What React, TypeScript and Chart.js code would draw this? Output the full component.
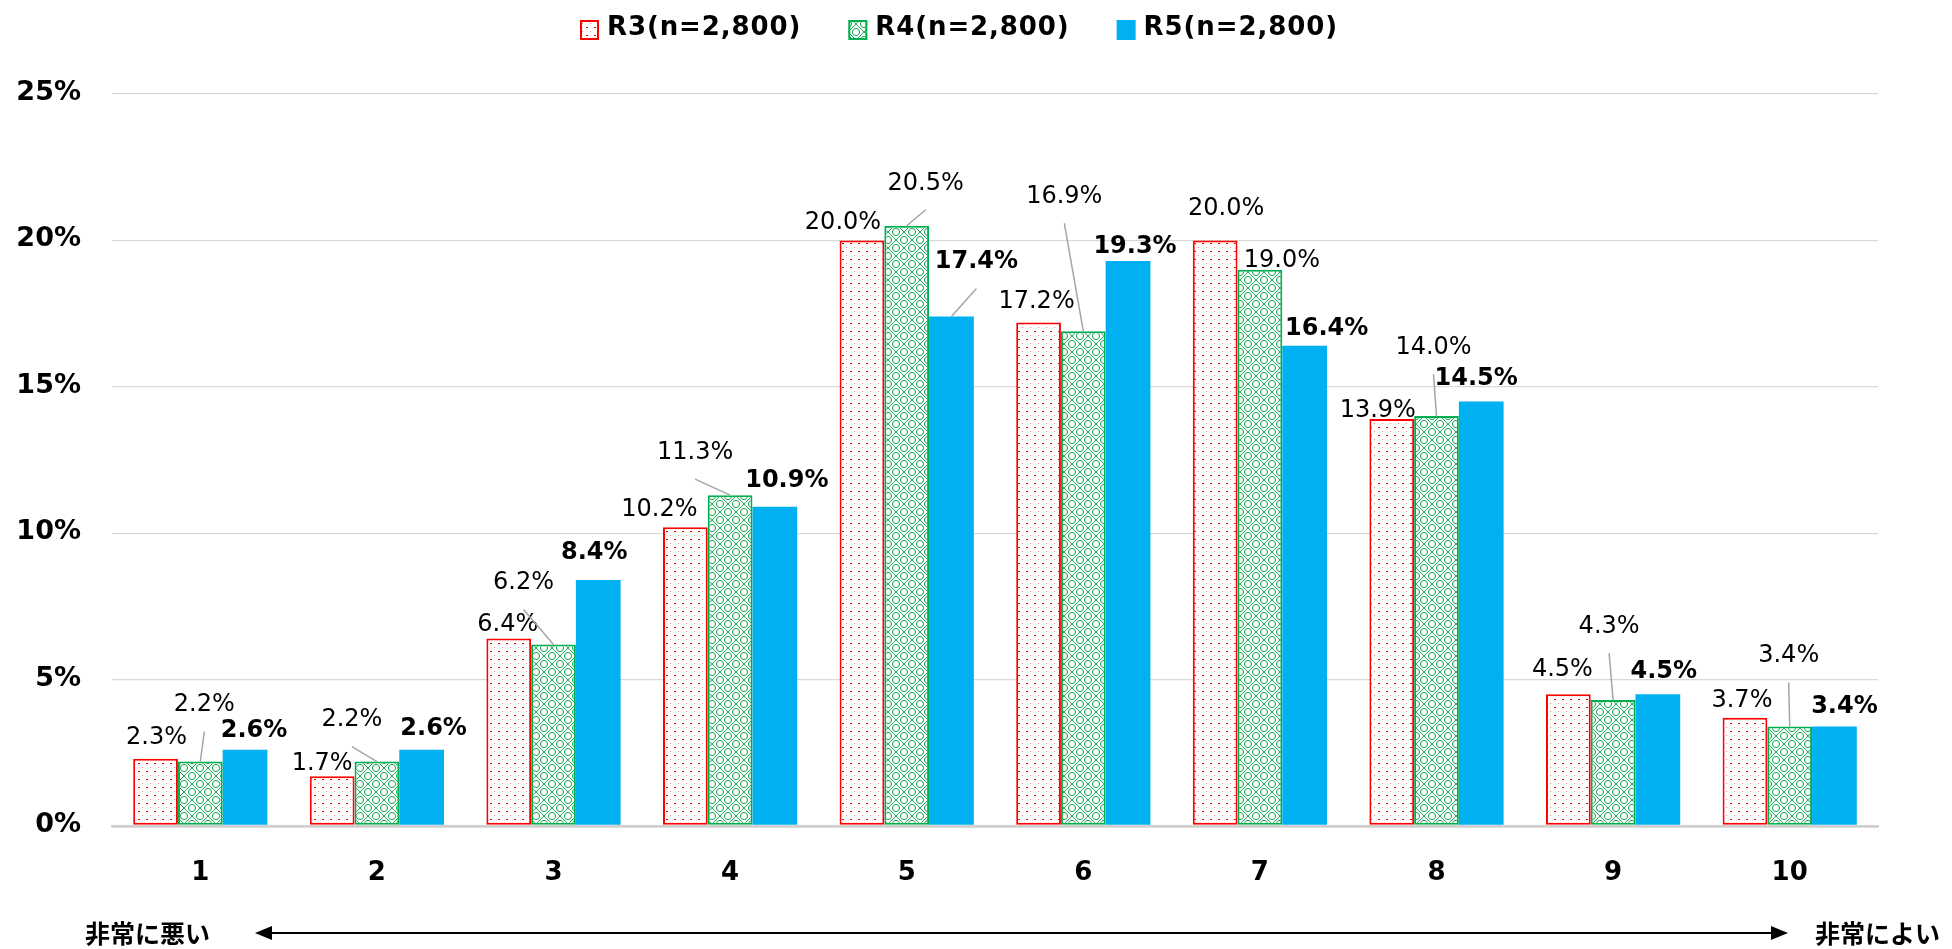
import { useEffect, useRef } from 'react';
import { Chart, registerables } from 'chart.js';

Chart.register(...registerables);

// ---- data ----
const categories = ['1', '2', '3', '4', '5', '6', '7', '8', '9', '10'];
const r3Values = [2.3, 1.7, 6.4, 10.2, 20.0, 17.2, 20.0, 13.9, 4.5, 3.7];
const r4Values = [2.2, 2.2, 6.2, 11.3, 20.5, 16.9, 19.0, 14.0, 4.3, 3.4];
const r5Values = [2.6, 2.6, 8.4, 10.9, 17.4, 19.3, 16.4, 14.5, 4.5, 3.4];
const seriesLabels = ['R3(n=2,800)', 'R4(n=2,800)', 'R5(n=2,800)'];
const yMax = 25;
const yStep = 5;
const scaleLeftLabel = '非常に悪い';
const scaleRightLabel = '非常によい';

// ---- label layout (pixel offsets of each value label from its bar top) ----
const LABEL_OFFSETS: number[][][] = [
  [[1, -23], [-10, -15], [-1, -16], [-26, -20], [-19, -20], [-2, -23], [11, -34], [-14, -11], [-6, -27], [-3, -19]],
  [[4, -59], [-25, -44], [-30, -64], [-35, -45], [19, -45], [-19, -137], [22, -11], [-3, -71], [-4, -76], [-1, -73]],
  [[9, -22], [12, -24], [-4, -30], [12, -29], [25, -57], [7, -17], [22, -20], [-5, -25], [6, -25], [10, -22]],
];
const LEADERS: boolean[][] = [
  [false, false, false, false, false, false, false, false, false, false],
  [true, true, true, true, true, true, false, true, true, true],
  [false, false, false, false, true, false, false, false, false, false],
];

const RED = '#FF0000';
const GREEN = '#00B050';
const BLUE = '#00B0F0';

function makeDotPattern(ctx: CanvasRenderingContext2D): CanvasPattern | string {
  const c = document.createElement('canvas');
  c.width = 8;
  c.height = 8;
  const g = c.getContext('2d');
  if (!g) return '#fff';
  g.fillStyle = '#ffffff';
  g.fillRect(0, 0, 8, 8);
  g.fillStyle = '#d40000';
  g.fillRect(2, 3, 2, 1);
  g.fillStyle = '#ec8080';
  g.fillRect(6, 7, 1, 1);
  return ctx.createPattern(c, 'repeat') || '#fff';
}

function makeLatticePattern(ctx: CanvasRenderingContext2D): CanvasPattern | string {
  const s = 16;
  const c = document.createElement('canvas');
  c.width = s;
  c.height = s;
  const g = c.getContext('2d');
  if (!g) return '#fff';
  g.fillStyle = '#ffffff';
  g.fillRect(0, 0, s, s);
  g.strokeStyle = '#18a552';
  g.lineWidth = 1;
  g.beginPath();
  g.moveTo(0, 0);
  g.lineTo(s, s);
  g.moveTo(s, 0);
  g.lineTo(0, s);
  g.stroke();
  const pts = [[s / 2, 0], [0, s / 2], [s, s / 2], [s / 2, s]];
  for (const [px, py] of pts) {
    g.beginPath();
    g.arc(px, py, 3.6, 0, Math.PI * 2);
    g.stroke();
  }
  return ctx.createPattern(c, 'repeat') || '#fff';
}

const labelPlugin = {
  id: 'valueLabels',
  afterDatasetsDraw(chart: any) {
    const ctx: CanvasRenderingContext2D = chart.ctx;
    ctx.save();
    chart.data.datasets.forEach((ds: any, di: number) => {
      const meta = chart.getDatasetMeta(di);
      meta.data.forEach((el: any, i: number) => {
        const [dx, dy] = LABEL_OFFSETS[di][i];
        const lx = el.x + dx;
        const ly = el.y + dy;
        if (LEADERS[di][i]) {
          ctx.strokeStyle = '#a6a6a6';
          ctx.lineWidth = 1.5;
          ctx.beginPath();
          ctx.moveTo(lx, ly + 29);
          ctx.lineTo(el.x, el.y);
          ctx.stroke();
        }
        const size = 24;
        ctx.font = `${di === 2 ? 'bold ' : ''}${size}px "DejaVu Sans"`;
        ctx.fillStyle = '#000';
        ctx.textAlign = 'center';
        ctx.textBaseline = 'alphabetic';
        const v = ds.data[i] as number;
        ctx.fillText(v.toFixed(1) + '%', lx, ly + size * 0.365);
      });
    });
    ctx.restore();
  },
  afterDraw(chart: any) {
    const ctx: CanvasRenderingContext2D = chart.ctx;
    ctx.save();
    // legend
    let x = 580;
    chart.data.datasets.forEach((ds: any, di: number) => {
      const bw = 19;
      const bh = 20;
      const by = 20;
      ctx.fillStyle = ds.backgroundColor;
      ctx.fillRect(x, by, bw, bh);
      if (di < 2) {
        ctx.strokeStyle = ds.borderColor;
        ctx.lineWidth = 2;
        ctx.strokeRect(x + 1, by + 1, bw - 2, bh - 2);
      }
      ctx.font = 'bold 26px "DejaVu Sans"';
      (ctx as any).letterSpacing = '0.9px';
      ctx.fillStyle = '#000';
      ctx.textAlign = 'left';
      ctx.textBaseline = 'alphabetic';
      const tx = x + bw + 8;
      ctx.fillText(ds.label, tx, 35);
      const w = ctx.measureText(ds.label).width;
      x = tx + w + 47;
    });
    (ctx as any).letterSpacing = '0px';
    // bottom scale annotation
    const ay = 933;
    ctx.font = 'bold 25px "Noto Sans CJK JP"';
    ctx.fillStyle = '#000';
    ctx.textBaseline = 'middle';
    ctx.textAlign = 'left';
    ctx.fillText(scaleLeftLabel, 85, ay);
    ctx.fillText(scaleRightLabel, 1815, ay);
    ctx.strokeStyle = '#000';
    ctx.lineWidth = 2;
    ctx.beginPath();
    ctx.moveTo(268, ay);
    ctx.lineTo(1775, ay);
    ctx.stroke();
    ctx.beginPath();
    ctx.moveTo(255, ay);
    ctx.lineTo(272, ay - 7);
    ctx.lineTo(272, ay + 7);
    ctx.closePath();
    ctx.fill();
    ctx.beginPath();
    ctx.moveTo(1788, ay);
    ctx.lineTo(1771, ay - 7);
    ctx.lineTo(1771, ay + 7);
    ctx.closePath();
    ctx.fill();
    ctx.restore();
  },
};

export default function App() {
  const ref = useRef<HTMLCanvasElement | null>(null);
  useEffect(() => {
    const canvas = ref.current;
    if (!canvas) return;
    const ctx = canvas.getContext('2d');
    if (!ctx) return;
    const dotPattern = makeDotPattern(ctx);
    const latticePattern = makeLatticePattern(ctx);
    const chart = new Chart(canvas, {
      type: 'bar',
      data: {
        labels: categories,
        datasets: [
          { label: seriesLabels[0], data: r3Values, backgroundColor: dotPattern as any, borderColor: RED, borderWidth: 2, borderSkipped: false },
          { label: seriesLabels[1], data: r4Values, backgroundColor: latticePattern as any, borderColor: GREEN, borderWidth: 2, borderSkipped: false },
          { label: seriesLabels[2], data: r5Values, backgroundColor: BLUE, borderWidth: 0 },
        ],
      },
      options: {
        responsive: false,
        animation: false,
        events: [],
        layout: { padding: { top: 94, right: 74, left: 0, bottom: 0 } },
        datasets: { bar: { categoryPercentage: 0.76, barPercentage: 1.0 } },
        plugins: { legend: { display: false }, tooltip: { enabled: false } },
        scales: {
          x: {
            grid: { display: false },
            border: { display: true, color: '#d0d0d0', width: 2.5 },
            ticks: { font: { family: 'DejaVu Sans', weight: 'bold', size: 26 }, color: '#000', padding: 24 },
            afterFit: (s: any) => { s.height = 123; },
          },
          y: {
            min: 0,
            max: yMax,
            ticks: {
              stepSize: yStep,
              callback: (v: any) => v + '%',
              font: { family: 'DejaVu Sans', weight: 'bold', size: 27 },
              color: '#000',
              padding: 31,
              labelOffset: -1,
            },
            grid: {
              color: (c: any) => (c.tick && c.tick.value === 0 ? '#d0d0d0' : '#d9d9d9'),
              lineWidth: (c: any) => (c.tick && c.tick.value === 0 ? 2.5 : 1.3),
              drawTicks: false,
            },
            border: { display: false },
            afterFit: (s: any) => { s.width = 112; },
          },
        },
      },
      plugins: [labelPlugin],
    });
    return () => chart.destroy();
  }, []);
  return (
    <div style={{ position: 'absolute', left: 0, top: 0, width: 1952, height: 949, background: '#fff' }}>
      <canvas ref={ref} width={1952} height={949} style={{ display: 'block' }} />
    </div>
  );
}
